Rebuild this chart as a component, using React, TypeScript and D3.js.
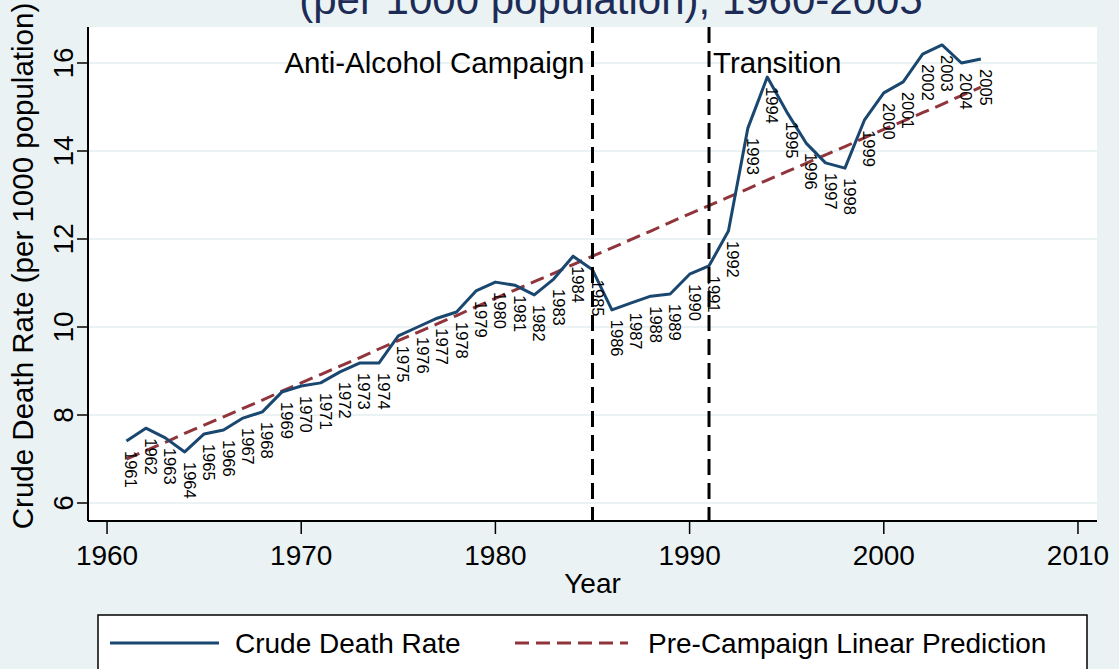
import React from "react";
import * as d3 from "d3";

const WIDTH = 1119;
const HEIGHT = 669;
const FONT = "'Liberation Sans', Arial, sans-serif";

const BG = "#eaf2f3";
const NAVY = "#1a476f";
const MAROON = "#90353b";
const TITLE_COLOR = "#1c2c57";

// data
const years = [
  1961, 1962, 1963, 1964, 1965, 1966, 1967, 1968, 1969, 1970, 1971, 1972, 1973, 1974, 1975,
  1976, 1977, 1978, 1979, 1980, 1981, 1982, 1983, 1984, 1985, 1986, 1987, 1988, 1989, 1990,
  1991, 1992, 1993, 1994, 1995, 1996, 1997, 1998, 1999, 2000, 2001, 2002, 2003, 2004, 2005,
];
const deathRate = [
  7.41, 7.7, 7.48, 7.16, 7.57, 7.66, 7.93, 8.07, 8.52, 8.66, 8.73, 8.98, 9.18, 9.18, 9.8,
  10.0, 10.2, 10.34, 10.82, 11.02, 10.95, 10.73, 11.09, 11.61, 11.3, 10.39, 10.55, 10.7, 10.75, 11.2,
  11.39, 12.18, 14.52, 15.68, 14.89, 14.18, 13.73, 13.61, 14.7, 15.32, 15.57, 16.2, 16.41, 16.0, 16.09,
];
const prediction = [
  7.0, 7.19, 7.38, 7.58, 7.77, 7.96, 8.15, 8.34, 8.54, 8.73, 8.92, 9.11, 9.3, 9.5, 9.69,
  9.88, 10.07, 10.26, 10.46, 10.65, 10.84, 11.03, 11.22, 11.42, 11.61, 11.8, 11.99, 12.18, 12.38, 12.57,
  12.76, 12.95, 13.14, 13.34, 13.53, 13.72, 13.91, 14.1, 14.3, 14.49, 14.68, 14.87, 15.06, 15.26, 15.45,
];
const xTicks = [1960, 1970, 1980, 1990, 2000, 2010];
const yTicks = [6, 8, 10, 12, 14, 16];
const events = [
  { year: 1985, label: "Anti-Alcohol Campaign", side: "w" },
  { year: 1991, label: "Transition", side: "e" },
];

const plot = { left: 88, right: 1097, top: 27, bottom: 521 };

export default function App() {
  const x = d3.scaleLinear().domain([1959.02, 2010.98]).range([plot.left, plot.right]);
  const y = d3.scaleLinear().domain([5.591, 16.818]).range([plot.bottom, plot.top]);

  const rateLine = d3
    .line<number>()
    .x((_, i) => x(years[i]))
    .y((d) => y(d));

  const midX = (plot.left + plot.right) / 2;

  return (
    <svg
      width={WIDTH}
      height={HEIGHT}
      style={{ position: "absolute", left: 0, top: 0, fontFamily: FONT }}
    >
      <rect width={WIDTH} height={HEIGHT} fill={BG} />
      <rect
        x={plot.left}
        y={plot.top}
        width={plot.right - plot.left}
        height={plot.bottom - plot.top}
        fill="#fff"
      />

      {/* title (only the second line falls inside the picture) */}
      <text x={611} y={14} textAnchor="middle" fontSize={42} fill={TITLE_COLOR}>
        (per 1000 population), 1960-2005
      </text>

      {/* grid */}
      {yTicks.map((t) => (
        <line key={"g" + t} x1={plot.left} x2={plot.right} y1={y(t)} y2={y(t)} stroke={BG} strokeWidth={2} />
      ))}

      {/* prediction */}
      <path
        d={rateLine(prediction) || ""}
        fill="none"
        stroke={MAROON}
        strokeWidth={3}
        strokeDasharray="14,7"
      />
      {/* death rate */}
      <path d={rateLine(deathRate) || ""} fill="none" stroke={NAVY} strokeWidth={3} strokeLinejoin="round" />

      {/* year labels */}
      {years.map((yr, i) => (
        <text
          key={"l" + yr}
          transform={`translate(${x(yr) + 5},${y(deathRate[i]) + 10}) rotate(90)`}
          dominantBaseline="central"
          fontSize={16.5}
          fill="#000"
        >
          {yr}
        </text>
      ))}

      {/* event lines */}
      {events.map((e) => (
        <g key={e.year}>
          <line
            x1={x(e.year)}
            x2={x(e.year)}
            y1={plot.top}
            y2={plot.bottom}
            stroke="#000"
            strokeWidth={3}
            strokeDasharray="16,8"
          />
          <text
            x={e.side === "w" ? x(e.year) - 8 : x(e.year) + 4}
            y={y(16)}
            dominantBaseline="central"
            textAnchor={e.side === "w" ? "end" : "start"}
            fontSize={29.5}
          >
            {e.label}
          </text>
        </g>
      ))}

      {/* axes */}
      <line x1={plot.left} x2={plot.left} y1={plot.top} y2={plot.bottom} stroke="#000" strokeWidth={2} />
      <line x1={plot.left} x2={plot.right} y1={plot.bottom} y2={plot.bottom} stroke="#000" strokeWidth={2} />
      {yTicks.map((t) => (
        <g key={"y" + t}>
          <line x1={plot.left - 11} x2={plot.left} y1={y(t)} y2={y(t)} stroke="#000" strokeWidth={1.5} />
          <text
            transform={`translate(73,${y(t)}) rotate(-90)`}
            textAnchor="middle"
            fontSize={28}
          >
            {t}
          </text>
        </g>
      ))}
      {xTicks.map((t) => (
        <g key={"x" + t}>
          <line x1={x(t)} x2={x(t)} y1={plot.bottom} y2={plot.bottom + 13} stroke="#000" strokeWidth={1.5} />
          <text x={x(t)} y={565} textAnchor="middle" fontSize={28}>
            {t}
          </text>
        </g>
      ))}
      <text x={midX} y={593} textAnchor="middle" fontSize={28}>
        Year
      </text>
      <text transform={`translate(33,266) rotate(-90)`} textAnchor="middle" fontSize={29.5}>
        Crude Death Rate (per 1000 population)
      </text>

      {/* legend */}
      <rect x={98} y={615} width={989} height={70} fill="#fff" stroke="#000" strokeWidth={1.5} />
      <line x1={110} x2={219} y1={643} y2={643} stroke={NAVY} strokeWidth={3} />
      <text x={235} y={643} dominantBaseline="central" fontSize={28}>
        Crude Death Rate
      </text>
      <line x1={515} x2={628} y1={643} y2={643} stroke={MAROON} strokeWidth={3} strokeDasharray="14,7" />
      <text x={648} y={643} dominantBaseline="central" fontSize={28}>
        Pre-Campaign Linear Prediction
      </text>
    </svg>
  );
}
